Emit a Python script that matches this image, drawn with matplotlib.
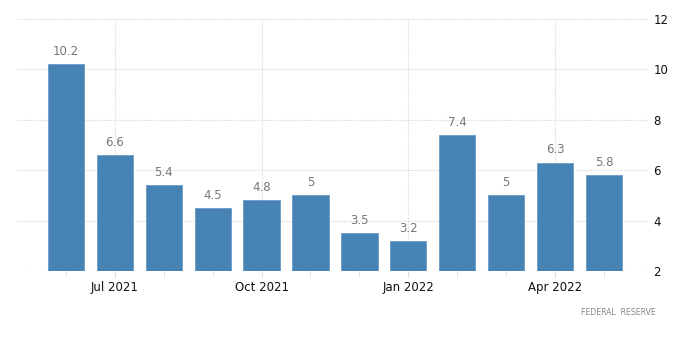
import matplotlib.pyplot as plt
import numpy as np

months = ['Jun 2021', 'Jul 2021', 'Aug 2021', 'Sep 2021', 'Oct 2021', 'Nov 2021',
          'Dec 2021', 'Jan 2022', 'Feb 2022', 'Mar 2022', 'Apr 2022', 'May 2022']
values = [10.2, 6.6, 5.4, 4.5, 4.8, 5, 3.5, 3.2, 7.4, 5, 6.3, 5.8]
value_labels = ['10.2', '6.6', '5.4', '4.5', '4.8', '5', '3.5', '3.2', '7.4', '5', '6.3', '5.8']
tick_months = ['Jul 2021', 'Oct 2021', 'Jan 2022', 'Apr 2022']
y_ticks = [2, 4, 6, 8, 10, 12]

fig = plt.figure(figsize=(7, 3.61), dpi=100)
ax = fig.add_axes([0.0243, 0.2493, 0.9014, 0.6981])

x = np.arange(len(months))
ax.bar(x, np.array(values) - 2, bottom=2, width=0.74, color='#4682b4',
       edgecolor='#6a9cc8', linewidth=0.6, zorder=3)

# value labels above each bar
for xi, v, lab in zip(x, values, value_labels):
    ax.annotate(lab, (xi, v), xytext=(0, 4.5), textcoords='offset points',
                ha='center', va='bottom', fontsize=8.5, color='#777777', zorder=4)

ax.set_xlim(-1.0, 11.9)
ax.set_ylim(2, 12)

ax.set_xticks([months.index(m) for m in tick_months])
ax.set_xticklabels(tick_months, fontsize=8.5, color='#111111')
ax.set_xticks(x, minor=True)
ax.tick_params(axis='x', which='major', length=4, color='#dddddd', pad=3)
ax.tick_params(axis='x', which='minor', length=4, color='#dddddd')

ax.yaxis.tick_right()
ax.set_yticks(y_ticks)
ax.set_yticklabels([str(t) for t in y_ticks], fontsize=8.5, color='#111111')
ax.tick_params(axis='y', length=0, pad=4)

ax.grid(True, which='major', linestyle=(0, (1, 1)), color='#d9d9d9', linewidth=0.8, zorder=0)
for s in ax.spines.values():
    s.set_visible(False)

fig.text(0.937, 0.135, 'FEDERAL  RESERVE', ha='right', va='center',
         fontsize=5.6, color='#888888')

plt.savefig('out.png', dpi=100)
plt.close()
